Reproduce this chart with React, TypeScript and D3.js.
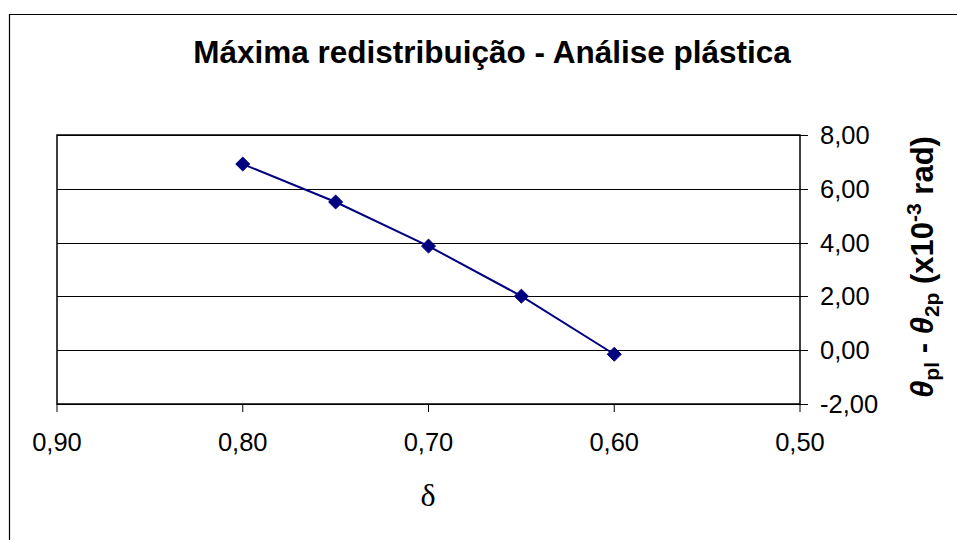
import React from "react";
import * as d3 from "d3";

const deltaValues = [0.8, 0.75, 0.7, 0.65, 0.6];
const thetaDiff = [6.92, 5.51, 3.87, 2.01, -0.15];
const xTicks = [0.9, 0.8, 0.7, 0.6, 0.5];
const yTicks = [-2, 0, 2, 4, 6, 8];
const titleText = "Máxima redistribuição - Análise plástica";

const W = 957;
const H = 540;
const plot = { left: 57, right: 800, top: 135, bottom: 404 };
const font = "'Liberation Sans', Arial, sans-serif";
const fmt = (v: number, d: number) => v.toFixed(d).replace(".", ",");

export default function App() {
  const x = d3.scaleLinear().domain([0.9, 0.5]).range([plot.left, plot.right]);
  const y = d3.scaleLinear().domain([-2, 8]).range([plot.bottom, plot.top]);
  const data = deltaValues.map((d, i) => ({ d, v: thetaDiff[i] }));
  const line = d3
    .line<{ d: number; v: number }>()
    .x((p) => x(p.d))
    .y((p) => y(p.v));
  const diamond = d3.symbol().type(d3.symbolDiamond2).size(125)() as string;

  return (
    <div style={{ position: "absolute", left: 0, top: 0 }}>
      <svg width={W} height={H} style={{ display: "block", background: "#fff" }}>
        <rect x={0} y={0} width={W} height={H} fill="#fff" />
        {/* outer chart border */}
        <line x1={9.5} y1={14} x2={9.5} y2={H} stroke="#000" strokeWidth={1.2} />
        <line x1={9} y1={14.5} x2={W} y2={14.5} stroke="#000" strokeWidth={1.2} />

        <text
          x={492}
          y={63}
          textAnchor="middle"
          fontFamily={font}
          fontWeight="bold"
          fontSize={31.5}
          fill="#000"
        >
          {titleText}
        </text>

        {/* gridlines */}
        {yTicks.map((t) => (
          <line
            key={"g" + t}
            x1={plot.left}
            x2={plot.right + 8}
            y1={Math.round(y(t)) + 0.5}
            y2={Math.round(y(t)) + 0.5}
            stroke="#000"
            strokeWidth={1}
          />
        ))}
        {/* plot border */}
        <rect
          x={plot.left}
          y={plot.top}
          width={plot.right - plot.left}
          height={plot.bottom - plot.top}
          fill="none"
          stroke="#000"
          strokeWidth={1.5}
        />
        {/* x ticks */}
        {xTicks.map((t) => (
          <g key={"x" + t}>
            <line
              x1={x(t)}
              x2={x(t)}
              y1={plot.bottom}
              y2={plot.bottom + 8}
              stroke="#000"
              strokeWidth={1}
            />
            <text
              x={x(t)}
              y={451}
              textAnchor="middle"
              fontFamily={font}
              fontSize={25.5}
              fill="#000"
            >
              {fmt(t, 2)}
            </text>
          </g>
        ))}
        {/* y labels */}
        {yTicks.map((t) => (
          <text
            key={"y" + t}
            x={820}
            y={y(t)}
            dy="0.35em"
            fontFamily={font}
            fontSize={25.5}
            fill="#000"
          >
            {fmt(t, 2)}
          </text>
        ))}

        {/* series */}
        <path d={line(data) as string} fill="none" stroke="#000080" strokeWidth={2} />
        {data.map((p, i) => (
          <path
            key={"m" + i}
            d={diamond}
            transform={`translate(${x(p.d)},${y(p.v)})`}
            fill="#000080"
            stroke="#000080"
          />
        ))}

        {/* x axis title */}
        <text
          x={428}
          y={506}
          textAnchor="middle"
          fontFamily="'Liberation Serif', 'Times New Roman', serif"
          fontSize={32}
          fill="#000"
        >
          δ
        </text>

        {/* y axis title (right) */}
        <text
          transform="translate(933,267) rotate(-90)"
          textAnchor="middle"
          fontFamily={font}
          fontWeight="bold"
          fontSize={31}
          fill="#000"
        >
          <tspan fontStyle="italic">θ</tspan>
          <tspan fontSize={21} dy={6}>pl</tspan>
          <tspan dy={-6}> - </tspan>
          <tspan fontStyle="italic">θ</tspan>
          <tspan fontSize={21} dy={6}>2p</tspan>
          <tspan dy={-6}> (x10</tspan>
          <tspan fontSize={21} dy={-12}>-3</tspan>
          <tspan dy={12}> rad)</tspan>
        </text>
      </svg>
    </div>
  );
}
